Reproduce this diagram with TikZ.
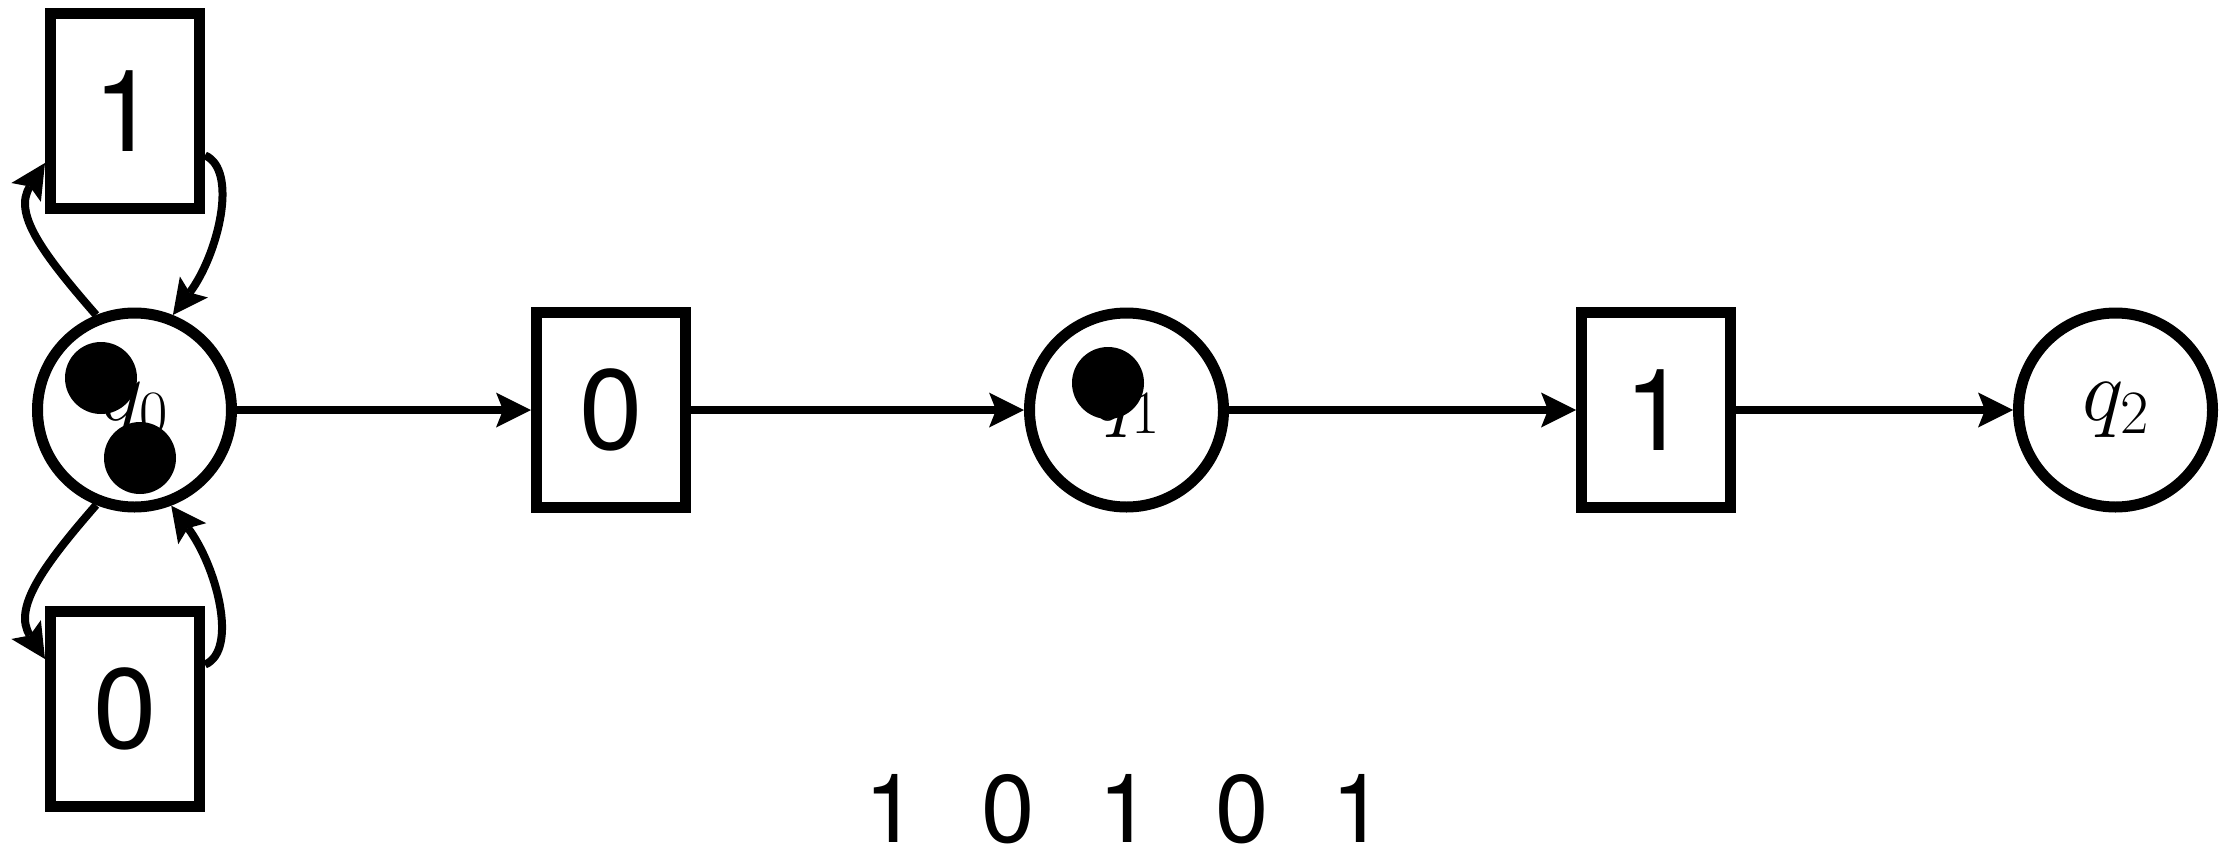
\RequirePackage{fix-cm}
\documentclass[tikz,border=0pt]{standalone}
\usepackage[no-math]{fontspec}
\setmainfont{TeX Gyre Heros}
\usetikzlibrary{arrows.meta}
\tikzset{
  place/.style={circle, draw, line width=11pt, minimum size=194pt, inner sep=0pt,
    font=\fontsize{88}{90}\selectfont},
  trans/.style={rectangle, draw, line width=11pt, minimum width=149pt, minimum height=194.5pt,
    inner sep=0pt, font=\fontsize{114}{120}\selectfont},
  token/.style={circle, fill=black, minimum size=72pt, inner sep=0pt},
  arr/.style={line width=8pt, -{Stealth[length=35pt, width=35pt, inset=7pt, line width=0pt]}},
  seq/.style={font=\fontsize{96}{98}\selectfont, anchor=base, inner sep=0pt}
}
\begin{document}
\begin{tikzpicture}[x=1pt,y=-1pt]
\useasboundingbox (0,0) rectangle (2230,849);
% places and transitions
\node[place] (q0) at (134.5,410) {$q_0$};
\node[trans] (b1) at (125,111) {1};
\node[trans] (b0) at (125,709) {0};
\node[trans] (bm) at (611,410) {0};
\node[place] (q1) at (1126.5,410) {$q_1$};
\node[trans] (br) at (1656,410) {1};
\node[place] (q2) at (2115.5,410) {$q_2$};
% tokens
\node[token] (t1) at ([shift={(-33.5,-32)}]q0.center) {};
\node[token] (t2) at ([shift={(5.5,48)}]q0.center) {};
\node[token] (t3) at ([shift={(-18.5,-27)}]q1.center) {};
% straight arcs
\draw[arr] (q0) -- (bm);
\draw[arr] (bm) -- (q1);
\draw[arr] (q1) -- (br);
\draw[arr] (br) -- (q2);
% loops
\draw[arr] (q0.112) .. controls +(-55,-63) and +(-32,50) .. (b1.213);
\draw[arr] (b1.331) .. controls +(34,15) and +(45,-60) .. (q0.68);
\draw[arr] (q0.248) .. controls +(-55,63) and +(-32,-50) .. (b0.148);
\draw[arr] (b0.29) .. controls +(34,-15) and +(45,60) .. (q0.291);
% input word
\node[seq] (word) at (1125,842) {1\hspace{0.66em}0\hspace{0.66em}1\hspace{0.66em}0\hspace{0.66em}1};
\end{tikzpicture}
\end{document}
